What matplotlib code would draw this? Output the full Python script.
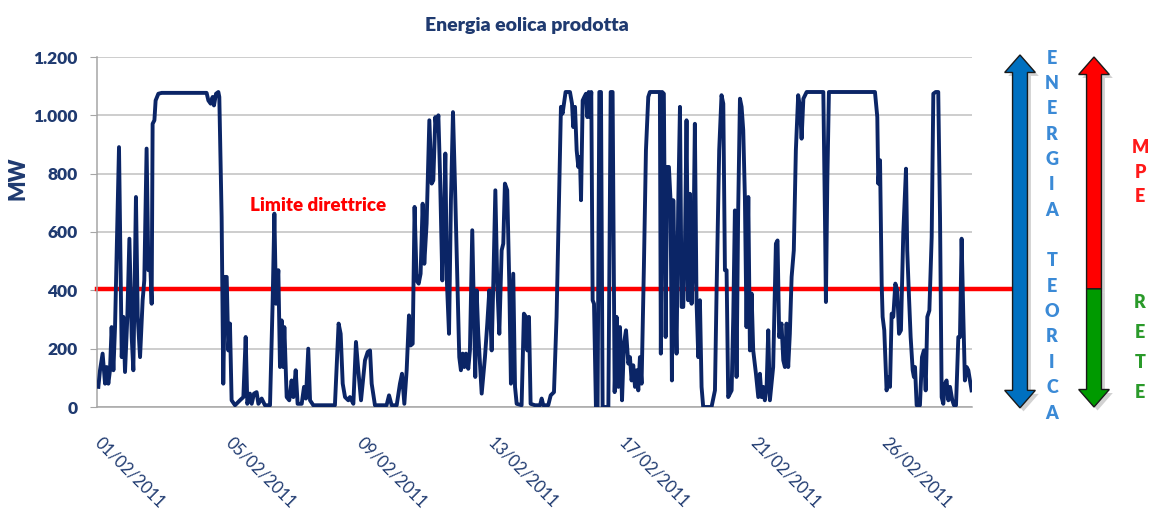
import numpy as np
import matplotlib
matplotlib.use('Agg')
import matplotlib.pyplot as plt
from matplotlib.patches import Polygon
from matplotlib import transforms

# wind output, hours from 01/02/2011 00:00 and MW
hours = [1.0, 2.2, 4.1, 5.9, 7.1, 8.3, 9.5, 10.7, 12.0, 13.2, 16.1, 18.1, 19.3, 20.5, 22.2, 23.7,
         25.4, 26.6, 28.5, 29.8, 31.5, 33.4, 34.6, 36.3, 37.6, 38.8, 40.0, 40.7, 42.0, 42.9, 44.9,
         47.3, 55.9, 68.1, 80.2, 81.5, 83.2, 84.6, 85.6, 87.1, 88.8, 89.5, 91.2, 92.4, 93.7, 94.9,
         96.1, 97.3, 98.5, 101.0, 104.6, 107.1, 108.8, 110.0, 111.9, 113.2, 114.9, 116.8, 118.1,
         120.5, 122.9, 126.6, 128.5, 129.8, 131.0, 132.7, 133.9, 135.1, 136.3, 137.1, 138.8, 140.7,
         142.4, 143.7, 145.4, 146.8, 149.8, 151.5, 152.9, 154.6, 155.9, 158.3, 165.6, 174.1, 175.4,
         176.8, 178.3, 179.8, 181.5, 183.9, 185.1, 187.6, 189.5, 191.2, 193.2, 196.1, 198.1, 199.8,
         201.0, 203.4, 211.9, 213.7, 215.6, 219.3, 221.7, 223.2, 224.9, 226.6, 228.3, 229.5, 231.0,
         232.4, 233.9, 235.4, 236.8, 238.3, 239.5, 241.2, 243.2, 244.9, 246.1, 247.6, 248.5, 249.8,
         251.0, 252.7, 253.9, 254.9, 256.1, 257.6, 259.0, 260.5, 262.0, 263.7, 265.1, 266.3, 267.6,
         268.8, 270.0, 271.7, 272.9, 274.6, 275.9, 276.8, 277.8, 279.0, 281.5, 283.9, 285.6, 287.1,
         288.8, 290.0, 291.5, 292.9, 294.4, 296.1, 297.3, 298.5, 300.2, 301.7, 302.9, 304.6, 305.9,
         307.1, 310.7, 312.4, 313.9, 314.9, 316.1, 317.3, 320.5, 324.2, 325.4, 326.6, 330.2, 332.0,
         334.4, 336.3, 338.3, 339.5, 340.7, 341.7, 342.9, 346.1, 347.6, 348.5, 349.8, 351.0, 352.2,
         353.4, 354.2, 355.4, 356.6, 357.8, 358.8, 359.8, 360.7, 361.7, 362.7, 363.7, 365.1, 366.3,
         367.6, 368.8, 370.0, 374.2, 375.9, 377.3, 378.8, 380.2, 381.5, 382.7, 384.2, 385.6, 387.1,
         388.8, 390.0, 391.2, 392.4, 393.7, 394.9, 396.1, 397.3, 398.5, 400.2, 401.7, 403.4, 404.6,
         411.9, 412.6, 413.6, 414.8, 416.1, 417.3, 418.5, 419.7, 420.7, 421.7, 422.9, 424.1, 425.3,
         426.6, 427.8, 429.0, 430.2, 431.4, 432.6, 433.9, 435.1, 436.3, 437.5, 438.7, 440.0, 441.2,
         442.4, 443.6, 449.7, 452.2, 453.4, 455.3, 457.0, 458.3, 459.5, 460.7, 461.9, 464.4, 465.6,
         466.8, 468.0, 469.2, 470.5, 471.7, 472.9, 474.1, 475.3, 476.6, 477.8, 479.0, 480.2, 482.2,
         483.9, 485.1, 486.3, 487.5, 488.7, 490.0, 491.2, 492.4, 493.6, 494.8, 496.8, 498.0, 499.2,
         500.9, 502.2, 503.4, 504.6, 505.8, 507.0, 508.3, 509.9, 511.4, 513.1, 514.4, 515.6, 516.9,
         519.3, 531.5, 532.7, 533.4, 534.4, 535.6, 537.6, 569.3, 571.0, 571.7, 573.0, 574.2, 574.9,
         576.1, 577.8, 579.1, 580.3, 581.5, 582.7, 584.2, 585.6, 586.9, 588.3, 590.0, 592.0, 592.9,
         594.2, 595.4, 596.9, 597.8, 598.6, 599.8, 602.2, 603.7, 605.1, 606.4, 607.6, 609.1, 610.8,
         612.0, 613.7, 615.6, 616.9, 618.1, 619.3, 620.5, 621.7, 623.0, 624.2, 625.9, 627.1, 628.6,
         630.3, 631.5, 632.7, 633.9, 635.1, 636.4, 637.6, 638.8, 640.0]
mw = [69, 126, 183, 80, 137, 80, 126, 274, 126, 274, 891, 171, 309, 120, 309, 577,
      240, 126, 720, 309, 171, 366, 434, 886, 469, 514, 354, 971, 983, 1051, 1074,
      1077, 1077, 1077, 1077, 1051, 1040, 1063, 1034, 1074, 1080, 1063, 651, 80, 446, 446,
      194, 286, 23, 6, 23, 34, 240, 11, 46, 11, 46, 51, 11,
      29, 6, 6, 354, 663, 354, 469, 137, 297, 137, 274, 34, 23,
      91, 34, 126, 11, 11, 69, 29, 200, 23, 6, 6, 6, 137,
      286, 251, 80, 34, 23, 34, 11, 223, 126, 23, 160, 189, 194,
      80, 6, 6, 40, 6, 6, 80, 114, 11, 126, 314, 211, 217,
      686, 434, 423, 457, 697, 491, 629, 983, 766, 777, 994, 949, 1000,
      800, 434, 640, 869, 423, 251, 709, 1011, 754, 434, 171, 126, 183,
      137, 183, 131, 194, 606, 309, 103, 400, 251, 46, 171, 286, 400,
      194, 423, 743, 423, 251, 537, 560, 766, 743, 423, 80, 457, 69,
      11, 6, 320, 309, 194, 309, 11, 6, 6, 29, 6, 6, 40,
      51, 309, 766, 1029, 1006, 1040, 1080, 1080, 1040, 960, 1029, 880, 823,
      857, 709, 1051, 1063, 1074, 994, 1080, 994, 1080, 366, 354, 0, 0,
      1080, 1080, 0, 0, 1080, 1080, 51, 309, 69, 274, 23, 217, 263,
      149, 171, 91, 143, 69, 126, 57, 171, 80, 480, 880, 1063, 1080,
      1080, 183, 1080, 1074, 240, 823, 823, 709, 91, 709, 423, 183, 686,
      1029, 343, 343, 537, 983, 366, 731, 354, 491, 971, 366, 171, 366,
      69, 0, 0, 57, 400, 880, 1069, 1040, 469, 469, 34, 57, 309,
      674, 103, 674, 1057, 1029, 949, 720, 274, 720, 194, 389, 194, 114,
      34, 114, 34, 69, 23, 69, 263, 23, 80, 137, 560, 571, 240,
      286, 160, 137, 286, 137, 251, 446, 537, 880, 1069, 1029, 920, 1057,
      1080, 1080, 651, 360, 766, 1080, 1080, 1080, 994, 766, 846, 423, 309,
      263, 57, 103, 69, 320, 309, 423, 400, 251, 263, 594, 817, 537,
      377, 240, 126, 103, 137, 6, 6, 171, 194, 57, 309, 331, 583,
      1074, 1080, 1080, 651, 34, 11, 80, 91, 23, 69, 23, 6, 6,
      240, 240, 577, 320, 91, 137, 126, 91, 57]

tick_hours = [0, 96, 192, 288, 384, 480, 576]
tick_labels = ['01/02/2011', '05/02/2011', '09/02/2011', '13/02/2011',
               '17/02/2011', '21/02/2011', '26/02/2011']
y_ticks = [0, 200, 400, 600, 800, 1000, 1200]
y_labels = ['0', '200', '400', '600', '800', '1.000', '1.200']
limite = 405

navy = '#0b2566'
text_navy = '#1f3a70'
W, H = 1149, 515

plt.rcParams['font.family'] = ['Lato', 'DejaVu Sans']

fig = plt.figure(figsize=(W / 100, H / 100), dpi=100)
ax = fig.add_axes([97 / W, 1 - 407 / H, 875 / W, 350 / H])

ax.plot(hours, mw, color=navy, lw=2.8, solid_joinstyle='round', zorder=3)
ax.axhline(limite, xmin=0, xmax=(1010 - 97) / 875, color='#ff0000', lw=3.2,
           clip_on=False, zorder=2)
ax.text(112, 692, 'Limite direttrice', color='#ff0000', fontsize=13.5,
        fontweight='heavy', va='center', ha='left')

ax.set_xlim(0, 640.3)
ax.set_ylim(0, 1200)
ax.set_yticks(y_ticks)
ax.set_yticklabels(y_labels, fontsize=12.5, fontweight='heavy', color=text_navy)
ax.set_xticks(tick_hours)
ax.set_xticklabels(tick_labels, fontsize=12, color=text_navy, rotation=-45,
                   rotation_mode='anchor', ha='left', va='center')
ax.tick_params(axis='x', length=0, pad=24)
ax.tick_params(axis='y', length=5, color='#a6a6a6', pad=9)
ax.grid(axis='y', color='#c0c0c0', lw=1.1)
ax.set_axisbelow(True)
for s in ['top', 'right']:
    ax.spines[s].set_visible(False)
for s in ['left', 'bottom']:
    ax.spines[s].set_color('#a6a6a6')
    ax.spines[s].set_linewidth(1.1)

fig.text(527 / W, 1 - 25 / H, 'Energia eolica prodotta', ha='center', va='center',
         fontsize=14, fontweight='heavy', color=text_navy)
fig.text(18 / W, 1 - 178 / H, 'MW', rotation=90, ha='center', va='center',
         fontsize=15.5, fontweight='heavy', color=text_navy)

# arrows on the right: x in axes fraction, y in MW
trans = transforms.blended_transform_factory(ax.transAxes, ax.transData)


def arrow_poly(xc, y0, y1, head_top, head_bottom, half=0.0085, head=0.0175, hl=60):
    pts = []
    if head_top:
        pts += [(xc - half, y1 - hl), (xc - head, y1 - hl), (xc, y1), (xc + head, y1 - hl), (xc + half, y1 - hl)]
    else:
        pts += [(xc - half, y1), (xc + half, y1)]
    if head_bottom:
        pts += [(xc + half, y0 + hl), (xc + head, y0 + hl), (xc, y0), (xc - head, y0 + hl), (xc - half, y0 + hl)]
    else:
        pts += [(xc + half, y0), (xc - half, y0)]
    return pts


def draw_arrow(xc, y0, y1, color, head_top, head_bottom):
    pts = arrow_poly(xc, y0, y1, head_top, head_bottom)
    shadow = [(x + 0.004, y - 12) for x, y in pts]
    ax.add_patch(Polygon(shadow, closed=True, transform=trans, clip_on=False,
                         facecolor='#808080', edgecolor='none', alpha=0.35, zorder=4))
    ax.add_patch(Polygon(pts, closed=True, transform=trans, clip_on=False,
                         facecolor=color, edgecolor='#1a1a1a', lw=1.0, zorder=5))


blue_x = (1020 - 97) / 875
rg_x = (1094 - 97) / 875
draw_arrow(blue_x, -3, 1207, '#0070c0', True, True)
draw_arrow(rg_x, limite, 1200, '#ff0000', True, False)
draw_arrow(rg_x, 0, limite, '#009a00', False, True)

# vertical lettering next to the arrows
word = 'ENERGIA TEORICA'
for i, ch in enumerate(word):
    if ch != ' ':
        fig.text(1052 / W, 1 - (58 + i * 25.36) / H, ch, ha='center', va='center',
                 fontsize=13, fontweight='heavy', color='#3b8ad6')
for ch, py in zip('MPE', [148, 172, 197]):
    fig.text(1140 / W, 1 - py / H, ch, ha='center', va='center',
             fontsize=13, fontweight='heavy', color='#ff1a1a')
for ch, py in zip('RETE', [303, 333, 363, 392]):
    fig.text(1140 / W, 1 - py / H, ch, ha='center', va='center',
             fontsize=13, fontweight='heavy', color='#2a9a2a')

fig.savefig('out.png', dpi=100)
